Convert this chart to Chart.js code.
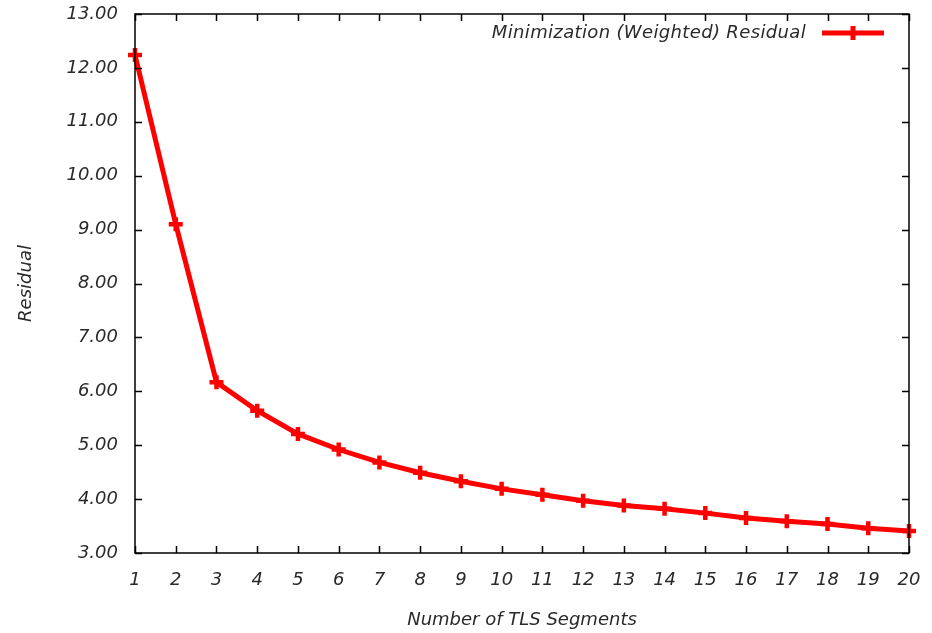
<!DOCTYPE html>
<html>
<head>
<meta charset="utf-8">
<script src="https://cdn.jsdelivr.net/npm/chart.js@4/dist/chart.umd.min.js"></script>
<style>
  html, body { margin: 0; padding: 0; background: #ffffff; }
  #wrap { width: 932px; height: 633px; position: relative; }
</style>
</head>
<body>
<div id="wrap"><canvas id="residualChart"></canvas></div>
<script>
// Residual vs número de segmentos TLS (estilo gnuplot)

/* global Chart */

const segments  = ['1', '2', '3', '4', '5', '6', '7', '8', '9', '10',
                   '11', '12', '13', '14', '15', '16', '17', '18', '19', '20'];
const residuals = [12.24, 9.10, 6.17, 5.64, 5.21, 4.92, 4.68, 4.49, 4.33, 4.19,
                   4.08, 3.97, 3.88, 3.82, 3.74, 3.65, 3.59, 3.54, 3.46, 3.41];
const seriesLabel = 'Minimization (Weighted) Residual';
const yTitle = 'Residual';
const xTitle = 'Number of TLS Segments';

const FONT = "'DejaVu Sans', sans-serif";
const FSIZE = 18;
const TEXT = '#2a2a2a';
const RED  = '#ff0000';

/** Marco + ticks hacia adentro (con espejo arriba/derecha), y leyenda estilo gnuplot */
const gnuplotFrame = {
  id: 'gnuplotFrame',
  afterDraw(chart) {
    const { ctx, chartArea: a, scales } = chart;
    const tick = 7;
    ctx.save();
    ctx.strokeStyle = '#000000';
    ctx.lineWidth = 1.5;
    ctx.strokeRect(a.left, a.top, a.right - a.left, a.bottom - a.top);

    ctx.beginPath();
    scales.y.ticks.forEach((t, i) => {
      const py = Math.round(scales.y.getPixelForTick(i)) + 0.5;
      ctx.moveTo(a.left, py);  ctx.lineTo(a.left + tick, py);
      ctx.moveTo(a.right, py); ctx.lineTo(a.right - tick, py);
    });
    scales.x.ticks.forEach((t, i) => {
      const px = Math.round(scales.x.getPixelForTick(i)) + 0.5;
      ctx.moveTo(px, a.bottom); ctx.lineTo(px, a.bottom - tick);
      ctx.moveTo(px, a.top);    ctx.lineTo(px, a.top + tick);
    });
    ctx.stroke();

    // leyenda: texto a la izquierda, muestra de línea a la derecha
    const ly = 33;
    const x1 = 822, x2 = 884;
    ctx.font = `italic ${FSIZE}px ${FONT}`;
    ctx.letterSpacing = '0.35px';
    ctx.fillStyle = TEXT;
    ctx.textAlign = 'right';
    ctx.textBaseline = 'middle';
    ctx.fillText(seriesLabel, 806, ly);
    ctx.strokeStyle = RED;
    ctx.lineWidth = 5;
    ctx.beginPath();
    ctx.moveTo(x1, ly); ctx.lineTo(x2, ly);
    const cx = (x1 + x2) / 2;
    ctx.moveTo(cx, ly - 7); ctx.lineTo(cx, ly + 7);
    ctx.stroke();
    ctx.restore();
  },
};

const tickFont = { family: FONT, size: FSIZE, style: 'italic' };

new Chart(document.getElementById('residualChart'), {
  type: 'line',
  data: {
    labels: segments,
    datasets: [{
      label: seriesLabel,
      data: residuals,
      borderColor: RED,
      backgroundColor: RED,
      borderWidth: 5,
      tension: 0,
      pointStyle: 'cross',
      pointRadius: 7,
      pointBorderWidth: 4.5,
      pointBorderColor: RED,
      clip: false,
    }],
  },
  options: {
    responsive: true,
    maintainAspectRatio: false,
    animation: false,
    layout: { padding: { left: 0, right: 23, top: 14, bottom: 0 } },
    plugins: {
      legend: { display: false },
      tooltip: { enabled: false },
    },
    scales: {
      x: {
        type: 'category',
        offset: false,
        grid: { display: false, drawTicks: false },
        border: { display: false },
        ticks: {
          font: tickFont,
          color: TEXT,
          padding: 17,
          maxRotation: 0,
          autoSkip: false,
        },
        title: {
          display: true,
          text: xTitle,
          font: tickFont,
          color: TEXT,
          padding: { top: 0, bottom: 2 },
        },
        afterFit: s => { s.height = 80; s.paddingLeft = 0; s.paddingRight = 0; },
      },
      y: {
        min: 3,
        max: 13,
        grid: { display: false, drawTicks: false },
        border: { display: false },
        ticks: {
          stepSize: 1,
          font: tickFont,
          color: TEXT,
          padding: 17,
          callback: v => Number(v).toFixed(2),
        },
        title: {
          display: true,
          text: yTitle,
          font: tickFont,
          color: TEXT,
          padding: { top: 16, bottom: 0 },
        },
        afterFit: s => { s.width = 135; s.paddingTop = 0; s.paddingBottom = 0; },
      },
    },
  },
  plugins: [gnuplotFrame],
});
</script>
</body>
</html>
